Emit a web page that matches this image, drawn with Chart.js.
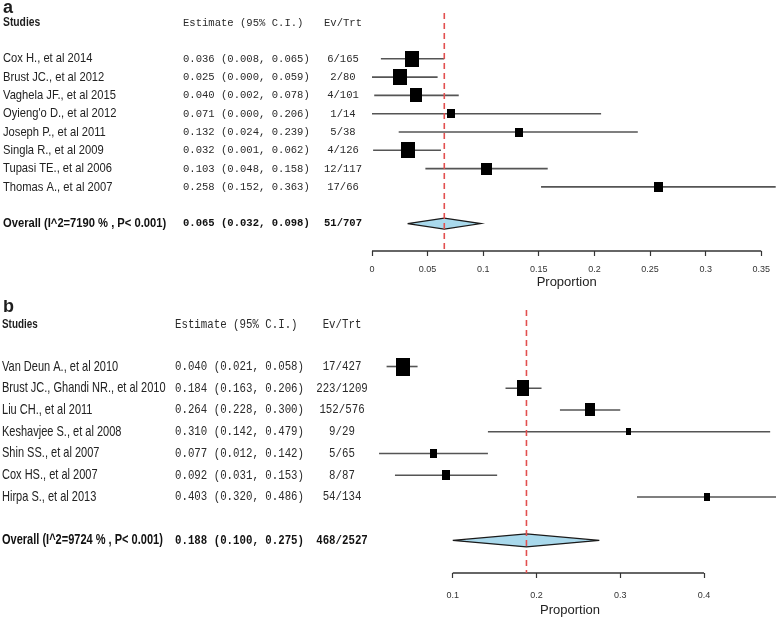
<!DOCTYPE html>
<html>
<head>
<meta charset="utf-8">
<script src="https://cdn.jsdelivr.net/npm/chart.js@4.4.0/dist/chart.umd.min.js"></script>
<style>
  body { margin: 0; background: #fff; width: 778px; height: 619px; overflow: hidden; position: relative; }
  .panel { position: absolute; left: 0; width: 778px; }
  #wrapA { top: 0; height: 300px; }
  #wrapB { top: 300px; height: 319px; }
</style>
</head>
<body>
<div class="panel" id="wrapA"><canvas id="chartA"></canvas></div>
<div class="panel" id="wrapB"><canvas id="chartB"></canvas></div>
<script>
// Panel a data
const studiesA = ['Cox H., et al 2014', 'Brust JC., et al 2012', 'Vaghela JF., et al 2015', "Oyieng'o D., et al 2012",
  'Joseph P., et al 2011', 'Singla R., et al 2009', 'Tupasi TE., et al 2006', 'Thomas A., et al 2007'];
const estA = [0.036, 0.025, 0.040, 0.071, 0.132, 0.032, 0.103, 0.258];
const lowA = [0.008, 0.000, 0.002, 0.000, 0.024, 0.001, 0.048, 0.152];
const highA = [0.065, 0.059, 0.078, 0.206, 0.239, 0.062, 0.158, 0.363];
const evA = ['6/165', '2/80', '4/101', '1/14', '5/38', '4/126', '12/117', '17/66'];
const weightA = [19, 19, 14, 6, 6, 18, 11, 7];
const overallA = [0.065, 0.032, 0.098];
const overallLabelA = 'Overall (I^2=7190 % , P< 0.001)';
const overallEvA = '51/707';
const ticksA = [0, 0.35, 0.05];

// Panel b data
const studiesB = ['Van Deun A., et al 2010', 'Brust JC., Ghandi NR., et al 2010', 'Liu CH., et al 2011',
  'Keshavjee S., et al 2008', 'Shin SS., et al 2007', 'Cox HS., et al 2007', 'Hirpa S., et al 2013'];
const estB = [0.040, 0.184, 0.264, 0.310, 0.077, 0.092, 0.403];
const lowB = [0.021, 0.163, 0.228, 0.142, 0.012, 0.031, 0.320];
const highB = [0.058, 0.206, 0.300, 0.479, 0.142, 0.153, 0.486];
const evB = ['17/427', '223/1209', '152/576', '9/29', '5/65', '8/87', '54/134'];
const weightB = [32, 24, 16, 4, 8, 9, 6];
const overallB = [0.188, 0.100, 0.275];
const overallLabelB = 'Overall (I^2=9724 % , P< 0.001)';
const overallEvB = '468/2527';
const ticksB = [0.1, 0.4, 0.1];

const SANS = '"Liberation Sans", Arial, sans-serif';
const MONO = '"Liberation Mono", "Courier New", monospace';

// small black box image, size from study weight
function makeBox(w, h) {
  const c = document.createElement('canvas');
  c.width = Math.round(w);
  c.height = Math.round(h);
  const g = c.getContext('2d');
  g.fillStyle = '#000';
  g.fillRect(0, 0, c.width, c.height);
  return c;
}

function drawText(ctx, text, x, y, font, sx, align) {
  ctx.save();
  ctx.font = font;
  ctx.textBaseline = 'middle';
  ctx.textAlign = align || 'left';
  ctx.translate(x, y);
  ctx.scale(sx, 1);
  ctx.fillText(text, 0, 0);
  ctx.restore();
}

function buildForest(id, p) {
  const n = p.studies.length;
  const oRow = n + 1;
  const datasets = [];

  // boxes
  datasets.push({
    data: p.est.map((v, i) => ({ x: v, y: i })),
    pointStyle: p.weight.map(w => makeBox(Math.sqrt(w) * p.boxK, Math.sqrt(w) * p.boxK * p.boxAspect)),
    pointRadius: 6,
    clip: false,
    order: 0
  });

  // summary line
  datasets.push({
    data: [{ x: p.overall[0], y: p.yMin }, { x: p.overall[0], y: p.yMax }],
    showLine: true,
    borderColor: '#e2504f',
    borderWidth: 1.6,
    borderDash: [6, 4],
    pointRadius: 0,
    clip: false,
    order: 1
  });

  // overall diamond
  datasets.push({
    data: [
      { x: p.overall[1], y: oRow },
      { x: p.overall[0], y: oRow - 0.3 },
      { x: p.overall[2], y: oRow },
      { x: p.overall[0], y: oRow + 0.3 },
      { x: p.overall[1], y: oRow }
    ],
    showLine: true,
    fill: 'shape',
    backgroundColor: '#a9d9ec',
    borderColor: '#1a1a1a',
    borderWidth: 1.2,
    tension: 0,
    pointRadius: 0,
    clip: false,
    order: 2
  });

  // confidence intervals
  p.low.forEach((lo, i) => {
    datasets.push({
      data: [{ x: lo, y: i }, { x: p.high[i], y: i }],
      showLine: true,
      borderColor: '#555',
      borderWidth: 1.6,
      pointRadius: 0,
      clip: false,
      order: 3
    });
  });

  // x axis line, only between first and last tick
  datasets.push({
    data: [{ x: p.ticks[0], y: p.yMax }, { x: p.ticks[1], y: p.yMax }],
    showLine: true,
    borderColor: '#333',
    borderWidth: 1.4,
    pointRadius: 0,
    clip: false,
    order: 4
  });

  const tablePlugin = {
    id: 'table' + id,
    afterDraw(chart) {
      const ctx = chart.ctx;
      const y = chart.scales.y;
      ctx.fillStyle = '#1e1e1e';
      drawText(ctx, p.letter, 3, y.getPixelForValue(p.letterRow), 'bold 18px ' + SANS, 1);
      drawText(ctx, 'Studies', p.nameX, y.getPixelForValue(p.headRow), 'bold ' + p.headSize + 'px ' + SANS, p.nameSx);
      ctx.fillStyle = '#2a2a2a';
      drawText(ctx, 'Estimate (95% C.I.)', p.estX, y.getPixelForValue(p.headRow), p.monoSize + 'px ' + MONO, p.monoSx);
      drawText(ctx, 'Ev/Trt', p.evX, y.getPixelForValue(p.headRow), p.monoSize + 'px ' + MONO, p.monoSx, 'center');
      p.studies.forEach((s, i) => {
        const py = y.getPixelForValue(i);
        ctx.fillStyle = '#222';
        drawText(ctx, s, p.nameX, py, p.nameSize + 'px ' + SANS, p.nameSx);
        ctx.fillStyle = '#2a2a2a';
        const ci = p.est[i].toFixed(3) + ' (' + p.low[i].toFixed(3) + ', ' + p.high[i].toFixed(3) + ')';
        drawText(ctx, ci, p.estX, py, p.monoSize + 'px ' + MONO, p.monoSx);
        drawText(ctx, p.ev[i], p.evX, py, p.monoSize + 'px ' + MONO, p.monoSx, 'center');
      });
      const oy = y.getPixelForValue(oRow);
      ctx.fillStyle = '#111';
      drawText(ctx, p.overallLabel, p.nameX, oy, 'bold ' + p.nameSize + 'px ' + SANS, p.nameSx);
      const oci = p.overall[0].toFixed(3) + ' (' + p.overall[1].toFixed(3) + ', ' + p.overall[2].toFixed(3) + ')';
      drawText(ctx, oci, p.estX, oy, 'bold ' + p.monoSize + 'px ' + MONO, p.monoSx);
      drawText(ctx, p.overallEv, p.evX, oy, 'bold ' + p.monoSize + 'px ' + MONO, p.monoSx, 'center');
    }
  };

  return new Chart(document.getElementById(id), {
    type: 'scatter',
    data: { datasets: datasets },
    options: {
      responsive: true,
      maintainAspectRatio: false,
      animation: false,
      layout: { padding: p.padding },
      plugins: { legend: { display: false }, tooltip: { enabled: false } },
      scales: {
        x: {
          type: 'linear',
          min: p.xRange[0],
          max: p.xRange[1],
          grid: { display: true, drawOnChartArea: false, drawTicks: true, tickLength: 5, tickColor: '#333', tickWidth: 1.2 },
          border: { display: false },
          ticks: {
            stepSize: p.ticks[2],
            autoSkip: false,
            maxRotation: 0,
            padding: p.tickPad,
            color: '#333',
            font: { family: SANS, size: 9 },
            callback: v => String(+v.toFixed(2))
          },
          afterBuildTicks(scale) {
            scale.ticks = scale.ticks.filter(t => t.value >= p.ticks[0] - 1e-9 && t.value <= p.ticks[1] + 1e-9);
          },
          title: {
            display: true,
            text: 'Proportion',
            color: '#222',
            font: { family: SANS, size: 13 },
            padding: { top: 0, bottom: p.titlePad }
          },
          afterFit(scale) { scale.height = p.axisH; }
        },
        y: { type: 'linear', reverse: true, min: p.yMin, max: p.yMax, display: false }
      }
    },
    plugins: [tablePlugin]
  });
}

buildForest('chartA', {
  studies: studiesA, est: estA, low: lowA, high: highA, ev: evA, weight: weightA,
  overall: overallA, overallLabel: overallLabelA, overallEv: overallEvA, ticks: ticksA,
  xRange: [0, 0.35],
  yMin: -2.5, yMax: 10.5, padding: { left: 372, right: 16, top: 13, bottom: 0 }, axisH: 49, tickPad: 8, titlePad: 10,
  boxK: 3.25, boxAspect: 1.15,
  letter: 'a', letterRow: -2.75, headRow: -1.95,
  nameX: 3, nameSize: 13, nameSx: 0.86, headSize: 12,
  estX: 183, monoSize: 11, monoSx: 0.96, evX: 343
});

buildForest('chartB', {
  studies: studiesB, est: estB, low: lowB, high: highB, ev: evB, weight: weightB,
  overall: overallB, overallLabel: overallLabelB, overallEv: overallEvB, ticks: ticksB,
  xRange: [0, 0.48],
  yMin: -2.6, yMax: 9.5, padding: { left: 369, right: 0, top: 10, bottom: 0 }, axisH: 46, tickPad: 12, titlePad: 1,
  boxK: 2.5, boxAspect: 1.3,
  letter: 'b', letterRow: -2.75, headRow: -1.92,
  nameX: 2, nameSize: 14.5, nameSx: 0.76, headSize: 13,
  estX: 175, monoSize: 12.5, monoSx: 0.86, evX: 342
});
</script>
</body>
</html>
